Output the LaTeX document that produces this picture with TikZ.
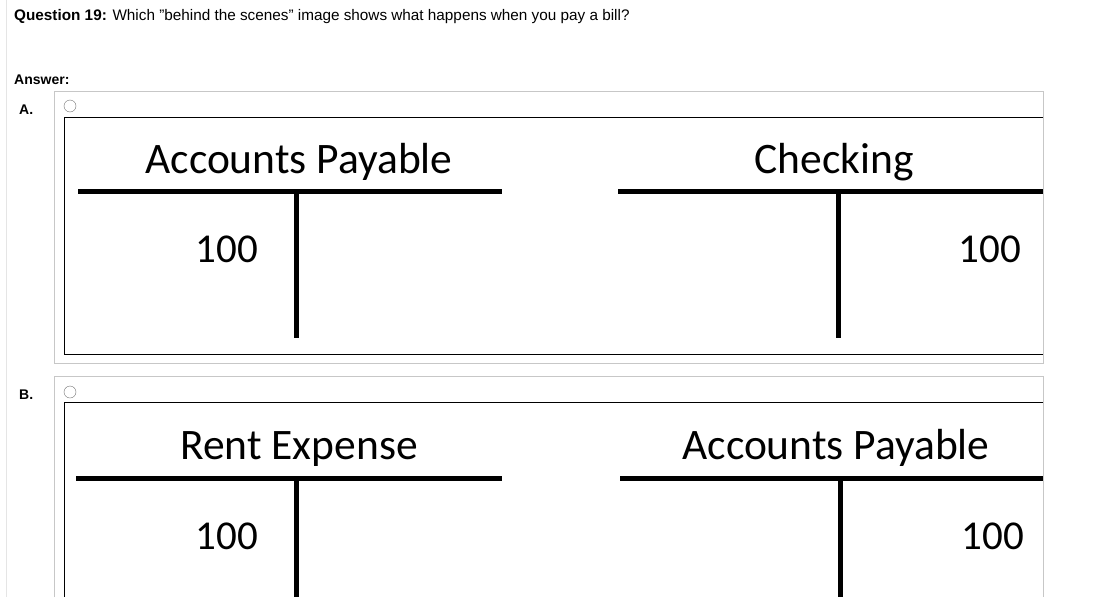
\documentclass[tikz,border=0pt]{standalone}
\usepackage{fontspec}
\setmainfont{Liberation Sans}
\newfontfamily\calfont{Carlito}
\begin{document}
\begin{tikzpicture}[x=1pt,y=-1pt,
  q/.style={inner sep=0,anchor=base west,font=\fontsize{15.3}{17}\selectfont},
  lab/.style={inner sep=0,anchor=base west,font=\bfseries\fontsize{14}{16}\selectfont},
  ttl/.style={inner sep=0,anchor=base,font=\calfont\fontsize{43.5}{46}\selectfont},
  num/.style={inner sep=0,anchor=base,font=\calfont\fontsize{41}{44}\selectfont},
  bar/.style={line width=5pt},
  panel/.style={draw=black!22,line width=1pt},
  radio/.style={circle,draw=black!55,minimum size=12pt,inner sep=0}]
\useasboundingbox (0,0) rectangle (1119,597);
\fill[white] (0,0) rectangle (1119,597);
\draw[black!10,line width=1pt] (6,0) -- (6,597);
\node[q] (qt) at (14,20) {\textbf{Question 19:} Which "behind the scenes" image shows what happens when you pay a bill?};
\node[lab] (ans) at (14,84) {Answer:};
\node[lab] (la) at (19,114) {A.};
\node[lab] (lb) at (19,399) {B.};
% panel A
\draw[panel] (54,91) rectangle (1043,363);
\node[radio] (ra) at (70,106) {};
\draw[line width=1pt] (1043,117) -- (64,117) -- (64,354) -- (1043,354);
\node[ttl] (a1) at (299,173) {Accounts Payable};
\draw[bar] (78,191) -- (502,191);
\draw[bar] (296,191) -- (296,338);
\node[num] (a1n) at (227,262) {100};
\node[ttl] (a2) at (834,173) {Checking};
\draw[bar] (618,191) -- (1043,191);
\draw[bar] (838,191) -- (838,338);
\node[num] (a2n) at (990,262) {100};
% panel B
\draw[panel] (54,597) -- (54,376) -- (1043,376) -- (1043,597);
\node[radio] (rb) at (70,392) {};
\draw[line width=1pt] (1043,402) -- (64,402) -- (64,597);
\node[ttl] (b1) at (299,459) {Rent Expense};
\draw[bar] (76,478) -- (502,478);
\draw[bar] (296,478) -- (296,597);
\node[num] (b1n) at (227,549) {100};
\node[ttl] (b2) at (836,459) {Accounts Payable};
\draw[bar] (620,478) -- (1043,478);
\draw[bar] (840,478) -- (840,597);
\node[num] (b2n) at (993,549) {100};
\end{tikzpicture}
\end{document}
